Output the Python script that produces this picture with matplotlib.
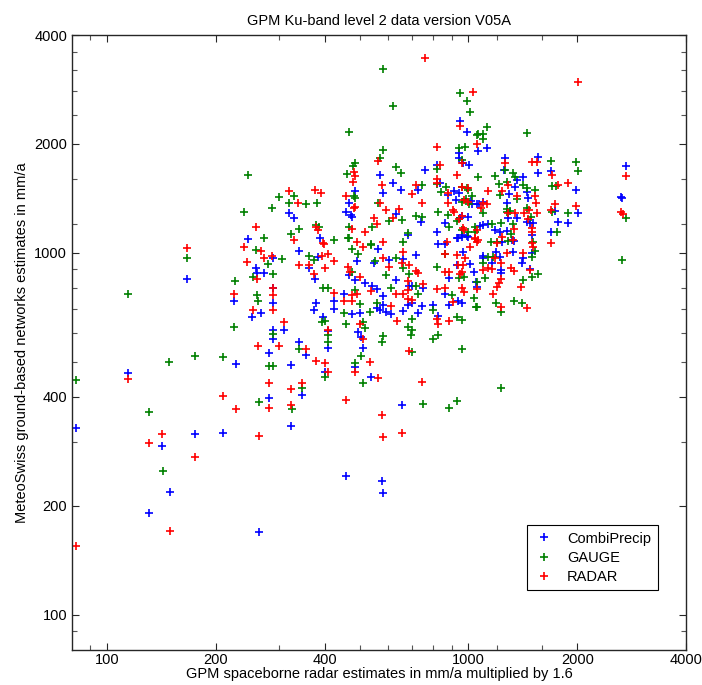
import matplotlib
matplotlib.use("Agg")
import matplotlib.pyplot as plt
from matplotlib.ticker import FixedLocator, NullFormatter

plt.rcParams['font.family'] = ['Liberation Sans', 'DejaVu Sans']

# CombiPrecip (blue)
combi_x = [245, 166, 288, 258, 260, 272, 224, 288, 288, 252, 266, 288, 288, 280, 227, 114, 280, 82, 175, 209,
           142, 149, 131, 263, 457, 575, 579, 388, 561, 826, 859, 933, 962, 1000, 968, 339, 383, 491, 547, 601,
           661, 718, 927, 1013, 886, 1039, 361, 376, 466, 487, 519, 540, 557, 632, 579, 687, 700, 751, 700, 682,
           864, 933, 962, 886, 1052, 800, 746, 661, 723, 452, 424, 378, 424, 373, 475, 500, 557, 571, 579, 612,
           590, 395, 410, 410, 308, 494, 503, 510, 826, 339, 355, 400, 322, 484, 536, 346, 322, 653, 950, 994,
           1066, 939, 939, 568, 756, 816, 968, 1006, 837, 880, 915, 939, 620, 649, 582, 723, 1026, 1059, 962, 864,
           632, 740, 682, 487, 466, 457, 472, 475, 318, 329, 821, 927, 962, 994, 1128, 1265, 1560, 1257, 1560, 1695,
           2730, 1366, 1419, 1349, 1297, 1455, 1464, 1986, 2647, 2661, 2014, 1738, 1282, 1366, 1289, 1483, 1513, 1455, 1072, 1079,
           1100, 1135, 1188, 1225, 1282, 1323, 1340, 1503, 1695, 1774, 1888, 1503, 1483, 1419, 1410, 1331, 1225, 1233, 1233, 1195,
           1165, 1094, 1100, 1059, 1241, 921, 1019, 1094, 950, 1000]
combi_y = [1094, 848, 968, 909, 880, 880, 737, 800, 728, 665, 682, 613, 579, 530, 494, 466, 398, 329, 316, 318,
           293, 219, 191, 169, 242, 235, 217, 1100, 1026, 1059, 1059, 1100, 1107, 1107, 1006, 1013, 975, 950, 939, 957,
           962, 987, 927, 933, 853, 886, 909, 848, 869, 842, 826, 811, 795, 842, 761, 811, 811, 800, 728, 718,
           771, 737, 728, 718, 832, 718, 714, 692, 682, 771, 737, 728, 700, 696, 678, 682, 705, 696, 718, 678,
           687, 665, 609, 547, 613, 605, 586, 547, 670, 568, 523, 469, 491, 484, 454, 405, 332, 380, 2315, 2160,
           1914, 1890, 1830, 1642, 1696, 1750, 1773, 1750, 1560, 1445, 1483, 1464, 1560, 1493, 1464, 1493, 1366, 1366, 1265, 1210,
           1282, 1218, 1122, 1483, 1374, 1297, 1274, 1257, 1289, 1250, 1143, 1100, 1122, 1114, 1951, 1830, 1842, 1696, 1664, 1686,
           1740, 1591, 1622, 1521, 1455, 1475, 1419, 1493, 1429, 1419, 1289, 1306, 1374, 1250, 1250, 1210, 1210, 1218, 1366, 1188,
           1195, 1202, 1158, 1143, 1151, 1086, 1079, 1122, 1143, 1218, 1210, 1000, 903, 968, 939, 1006, 975, 898, 880, 1006,
           939, 981, 968, 805, 1072, 1400, 1393, 1384, 1250, 1257]

# GAUGE (green)
gauge_x = [245, 240, 286, 272, 166, 258, 279, 288, 226, 253, 114, 260, 261, 224, 288, 148, 175, 209, 280, 288,
           82, 263, 131, 143, 426, 463, 536, 661, 859, 305, 361, 373, 475, 494, 553, 632, 661, 687, 821, 939,
           975, 475, 590, 612, 718, 723, 903, 1039, 1052, 800, 408, 395, 487, 500, 452, 533, 557, 393, 400, 408,
           410, 457, 519, 510, 503, 579, 575, 700, 682, 696, 692, 927, 962, 826, 800, 962, 700, 339, 400, 484,
           510, 346, 324, 751, 886, 927, 582, 620, 466, 950, 994, 1013, 1059, 939, 981, 582, 568, 487, 478, 632,
           649, 460, 816, 957, 1066, 816, 869, 842, 957, 994, 1000, 1026, 746, 957, 987, 1006, 927, 880, 826, 886,
           601, 653, 718, 746, 682, 561, 540, 481, 487, 466, 466, 378, 385, 380, 329, 299, 318, 355, 322, 339,
           962, 1000, 1045, 536, 1128, 1455, 1066, 1094, 1100, 1265, 1695, 1986, 2014, 1188, 1331, 1349, 1218, 1282, 1419, 1455,
           1225, 1366, 1531, 1706, 1750, 1888, 2730, 1706, 1282, 1306, 1493, 1094, 1045, 1165, 1233, 1331, 1315, 1289, 1513, 1762,
           1158, 1202, 2661, 1531, 1503, 1503, 1560, 1419, 1340, 1410, 1172, 1135, 1094, 1114, 1195, 1233, 1059, 1059, 1233, 1282,
           1455]
gauge_y = [1642, 1297, 1331, 1100, 968, 1019, 933, 875, 837, 859, 771, 766, 737, 625, 597, 500, 519, 516, 487, 487,
           446, 388, 364, 250, 1086, 1100, 1052, 1072, 994, 962, 981, 957, 1026, 994, 950, 968, 909, 875, 915, 853,
           859, 886, 869, 800, 811, 771, 766, 751, 709, 696, 800, 800, 790, 723, 682, 687, 728, 645, 649, 594,
           568, 636, 621, 645, 519, 590, 568, 657, 625, 613, 594, 665, 653, 594, 579, 543, 533, 543, 454, 497,
           438, 424, 371, 383, 373, 390, 3221, 2548, 2160, 2767, 2631, 2453, 2118, 1951, 1963, 1927, 1830, 1773, 1740, 1729,
           1664, 1653, 1707, 1806, 1622, 1552, 1521, 1475, 1521, 1513, 1493, 1435, 1541, 1384, 1410, 1366, 1225, 1274, 1297, 1180,
           1225, 1233, 1265, 1257, 1135, 1374, 1180, 1435, 1419, 1180, 1100, 1195, 1180, 1374, 1435, 1429, 1374, 1366, 1128, 1165,
           1158, 1143, 1143, 1059, 2230, 2145, 2131, 2066, 2131, 1696, 1794, 1783, 1686, 1633, 1664, 1622, 1552, 1570, 1541, 1513,
           1445, 1410, 1493, 1531, 1531, 1289, 1250, 1297, 1297, 1306, 1257, 1289, 1180, 1202, 1210, 1202, 1128, 1079, 1072, 1143,
           1072, 1072, 957, 1013, 975, 859, 875, 842, 737, 728, 975, 975, 939, 853, 728, 687, 832, 709, 424, 1323,
           1331]

# RADAR (red)
radar_x = [258, 166, 240, 266, 272, 286, 244, 260, 224, 288, 288, 253, 288, 261, 114, 280, 209, 227, 280, 142,
           263, 131, 175, 149, 82, 329, 398, 491, 510, 579, 661, 875, 1013, 1045, 1059, 864, 927, 393, 408, 426,
           579, 601, 657, 687, 718, 723, 859, 886, 933, 968, 981, 962, 950, 339, 361, 373, 400, 463, 469, 500,
           536, 632, 661, 682, 682, 682, 751, 700, 821, 864, 962, 975, 909, 424, 475, 491, 475, 452, 612, 410,
           308, 500, 510, 636, 821, 826, 886, 687, 299, 355, 378, 400, 408, 484, 533, 561, 746, 346, 322, 322,
           457, 575, 579, 653, 756, 1032, 950, 1059, 821, 561, 481, 484, 478, 837, 927, 816, 821, 1000, 575, 718,
           700, 746, 880, 975, 915, 939, 644, 620, 593, 568, 547, 557, 519, 457, 487, 481, 475, 378, 383, 395,
           376, 390, 318, 337, 975, 1045, 2014, 1265, 1503, 1552, 1706, 2730, 1289, 1241, 1366, 1531, 1541, 1135, 1774, 1888,
           1986, 2647, 2679, 1738, 1695, 1289, 1349, 1429, 1475, 1464, 1552, 1503, 1094, 1086, 1128, 1059, 1241, 1340, 1503, 1695,
           1066, 1202, 1483, 1419, 1401, 1455, 1315, 1340, 1282, 1233, 1188, 1094, 1135, 1165, 1233, 1218, 1202, 1172, 1233, 1059,
           1331, 962, 957, 880, 909, 1000, 968, 962, 1503, 1513]
radar_y = [1180, 1032, 1039, 1013, 968, 981, 944, 848, 771, 800, 766, 696, 696, 553, 449, 438, 403, 371, 373, 316,
           312, 299, 273, 171, 155, 1086, 1059, 1072, 1039, 1072, 1006, 1072, 1039, 1094, 1072, 994, 987, 981, 994, 950,
           968, 915, 939, 927, 892, 880, 886, 886, 927, 927, 968, 886, 875, 927, 927, 875, 909, 915, 886, 859,
           786, 771, 771, 837, 790, 746, 821, 741, 795, 800, 800, 781, 732, 776, 766, 771, 737, 737, 714, 613,
           645, 636, 579, 649, 657, 636, 649, 536, 553, 543, 503, 497, 469, 469, 500, 452, 440, 438, 421, 380,
           393, 357, 310, 318, 3459, 2784, 2244, 2000, 1963, 1794, 1675, 1633, 1570, 1750, 1642, 1600, 1560, 1513, 1541, 1541,
           1455, 1374, 1374, 1400, 1297, 1241, 1323, 1250, 1315, 1374, 1250, 1202, 1143, 1435, 1340, 1331, 1165, 1180, 1158, 1066,
           1493, 1464, 1483, 1374, 1158, 1100, 2963, 1773, 1783, 1783, 1642, 1633, 1541, 1483, 1435, 1435, 1374, 1483, 1541, 1560,
           1349, 1297, 1282, 1366, 1315, 1289, 1289, 1289, 1315, 1241, 1289, 1172, 1374, 1331, 1366, 1158, 1107, 1165, 1143, 1066,
           1086, 1066, 898, 1000, 805, 705, 909, 892, 1000, 939, 968, 898, 909, 903, 848, 826, 805, 771, 709, 795,
           1086, 1773, 1521, 1464, 1315, 1384, 1172, 1265, 1066, 1039]

series_names = ['CombiPrecip', 'GAUGE', 'RADAR']
series_colors = ['#0000ff', '#008000', '#ff0000']

x_major = [100, 200, 400, 1000, 2000, 4000]
x_minor = [90, 300, 500, 600, 700, 800, 900, 1200, 1600]
y_major = [100, 200, 400, 1000, 2000, 4000]
y_minor = [90, 300, 500, 600, 700, 800, 900, 1200, 1600, 2400, 2800, 3200, 3600]

W, H = 702, 685
fig = plt.figure(figsize=(W / 100, H / 100), dpi=100)
ax = fig.add_axes([72 / W, (H - 650) / H, 614 / W, 615 / H])

data = [(combi_x, combi_y), (gauge_x, gauge_y), (radar_x, radar_y)]
for (xs, ys), name, col in zip(data, series_names, series_colors):
    ax.plot(xs, ys, linestyle='none', marker='+', markersize=5.5, markeredgewidth=1.2,
            color=col, label=name)

ax.set_xscale('log')
ax.set_yscale('log')
ax.set_xlim(80, 4000)
ax.set_ylim(80, 4000)

ax.xaxis.set_major_locator(FixedLocator(x_major))
ax.xaxis.set_minor_locator(FixedLocator(x_minor))
ax.yaxis.set_major_locator(FixedLocator(y_major))
ax.yaxis.set_minor_locator(FixedLocator(y_minor))
ax.set_xticklabels([str(v) for v in x_major])
ax.set_yticklabels([str(v) for v in y_major])
ax.xaxis.set_minor_formatter(NullFormatter())
ax.yaxis.set_minor_formatter(NullFormatter())

ax.tick_params(which='both', direction='in', top=True, right=True, labelsize=10.5,
               colors='#262626', labelcolor='black')
ax.tick_params(which='major', length=5, width=0.8)
ax.tick_params(which='minor', length=3.5, width=0.8, colors='#555555')
ax.tick_params(axis='x', which='major', pad=2.5)
for sp in ax.spines.values():
    sp.set_color('#262626')
    sp.set_linewidth(1.0)

ax.set_title('GPM Ku-band level 2 data version V05A', fontsize=10.5, pad=7)
ax.set_xlabel('GPM spaceborne radar estimates in mm/a multiplied by 1.6', fontsize=10.5, labelpad=0)
ax.set_ylabel('MeteoSwiss ground-based networks estimates in mm/a', fontsize=10.5, labelpad=4)

leg = ax.legend(loc='upper left', bbox_to_anchor=(527 / W, 1 - 525 / H), bbox_transform=fig.transFigure,
                fontsize=10.5, frameon=True, fancybox=False, framealpha=1, edgecolor='black',
                borderpad=0.45, handlelength=1.4, handletextpad=0.9, labelspacing=0.35, borderaxespad=0)
leg.get_frame().set_linewidth(0.8)

fig.savefig('out.png', dpi=100)
